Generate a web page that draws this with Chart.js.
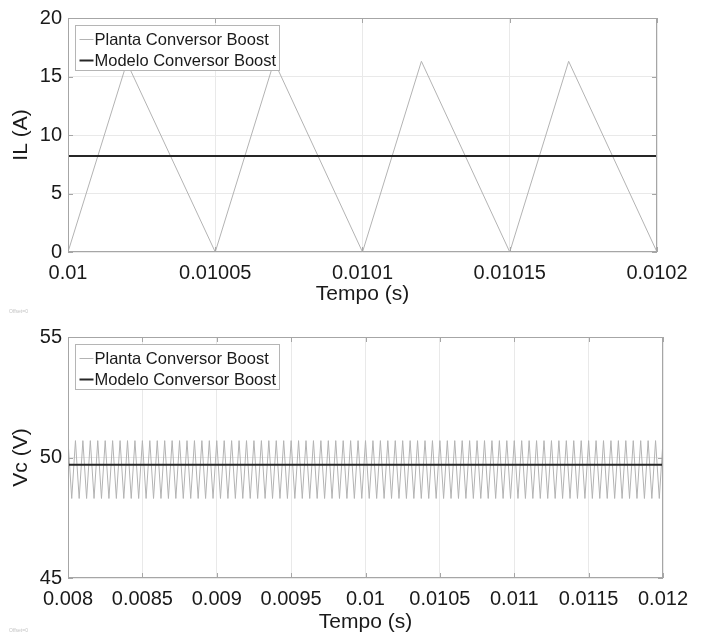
<!DOCTYPE html>
<html><head><meta charset="utf-8">
<script src="https://cdn.jsdelivr.net/npm/chart.js@4.4.1/dist/chart.umd.min.js"></script>
<style>
html,body{margin:0;padding:0;background:#fff;}
#wrap{width:712px;height:638px;position:relative;overflow:hidden;}
canvas{position:absolute;left:0;}
</style></head><body>
<div id="wrap">
<canvas id="c1" width="712" height="319" style="top:0"></canvas>
<canvas id="c2" width="712" height="319" style="top:319px"></canvas>
</div>
<script>
// ---------- data ----------
const seriesLabels = ['Planta Conversor Boost', 'Modelo Conversor Boost'];

// Top panel: inductor current IL (A) vs time (s)
const ilTime  = [0.01, 0.01002, 0.01005, 0.01007, 0.0101, 0.01012, 0.01015, 0.01017, 0.0102];
const ilPlant = [0, 16.2, 0, 16.3, 0, 16.3, 0, 16.3, 0];
const ilModelTime = [0.01, 0.0102];
const ilModel = [8.2, 8.2];
const ilXTicks = [0.01, 0.01005, 0.0101, 0.01015, 0.0102];
const ilXTickLabels = ['0.01', '0.01005', '0.0101', '0.01015', '0.0102'];
const ilYTicks = [0, 5, 10, 15, 20];

// Bottom panel: capacitor voltage Vc (V) vs time (microseconds)
const vcTimeUs = [
  8000,8025,8050,8075,8100,8125,8150,8175,
  8200,8225,8250,8275,8300,8325,8350,8375,
  8400,8425,8450,8475,8500,8525,8550,8575,
  8600,8625,8650,8675,8700,8725,8750,8775,
  8800,8825,8850,8875,8900,8925,8950,8975,
  9000,9025,9050,9075,9100,9125,9150,9175,
  9200,9225,9250,9275,9300,9325,9350,9375,
  9400,9425,9450,9475,9500,9525,9550,9575,
  9600,9625,9650,9675,9700,9725,9750,9775,
  9800,9825,9850,9875,9900,9925,9950,9975,
  10000,10025,10050,10075,10100,10125,10150,10175,
  10200,10225,10250,10275,10300,10325,10350,10375,
  10400,10425,10450,10475,10500,10525,10550,10575,
  10600,10625,10650,10675,10700,10725,10750,10775,
  10800,10825,10850,10875,10900,10925,10950,10975,
  11000,11025,11050,11075,11100,11125,11150,11175,
  11200,11225,11250,11275,11300,11325,11350,11375,
  11400,11425,11450,11475,11500,11525,11550,11575,
  11600,11625,11650,11675,11700,11725,11750,11775,
  11800,11825,11850,11875,11900,11925,11950,11975,
  12000];
const vcPlant = [
  50.7,48.3,50.7,48.3,50.7,48.3,50.7,48.3,
  50.7,48.3,50.7,48.3,50.7,48.3,50.7,48.3,
  50.7,48.3,50.7,48.3,50.7,48.3,50.7,48.3,
  50.7,48.3,50.7,48.3,50.7,48.3,50.7,48.3,
  50.7,48.3,50.7,48.3,50.7,48.3,50.7,48.3,
  50.7,48.3,50.7,48.3,50.7,48.3,50.7,48.3,
  50.7,48.3,50.7,48.3,50.7,48.3,50.7,48.3,
  50.7,48.3,50.7,48.3,50.7,48.3,50.7,48.3,
  50.7,48.3,50.7,48.3,50.7,48.3,50.7,48.3,
  50.7,48.3,50.7,48.3,50.7,48.3,50.7,48.3,
  50.7,48.3,50.7,48.3,50.7,48.3,50.7,48.3,
  50.7,48.3,50.7,48.3,50.7,48.3,50.7,48.3,
  50.7,48.3,50.7,48.3,50.7,48.3,50.7,48.3,
  50.7,48.3,50.7,48.3,50.7,48.3,50.7,48.3,
  50.7,48.3,50.7,48.3,50.7,48.3,50.7,48.3,
  50.7,48.3,50.7,48.3,50.7,48.3,50.7,48.3,
  50.7,48.3,50.7,48.3,50.7,48.3,50.7,48.3,
  50.7,48.3,50.7,48.3,50.7,48.3,50.7,48.3,
  50.7,48.3,50.7,48.3,50.7,48.3,50.7,48.3,
  50.7,48.3,50.7,48.3,50.7,48.3,50.7,48.3,
  50.7];
const vcModelTimeUs = [8000, 12000];
const vcModel = [49.7, 49.7];
const vcXTicks = [0.008, 0.0085, 0.009, 0.0095, 0.01, 0.0105, 0.011, 0.0115, 0.012];
const vcXTickLabels = ['0.008', '0.0085', '0.009', '0.0095', '0.01', '0.0105', '0.011', '0.0115', '0.012'];
const vcYTicks = [45, 50, 55];

// ---------- styling ----------
const FONT = '"Liberation Sans", Arial, Helvetica, sans-serif';
const TEXT = '#1a1a1a';
const FRAME = '#a6a6a6';
const GRID = '#e9e9e9';
const PLANT_COLOR = '#b3b3b3';
const MODEL_COLOR = '#262626';

function pts(xs, ys, scale) { return xs.map((x, i) => ({ x: x * scale, y: ys[i] })); }

function decorPlugin() {
  return {
    id: 'decor',
    afterDatasetsDraw(chart) {
      const { ctx, chartArea: a } = chart;
      const sx = chart.scales.x, sy = chart.scales.y;
      ctx.save();
      ctx.strokeStyle = FRAME; ctx.lineWidth = 1;
      ctx.beginPath();
      sx.ticks.forEach(t => {
        const p = Math.round(sx.getPixelForValue(t.value)) + 0.5;
        ctx.moveTo(p, a.bottom); ctx.lineTo(p, a.bottom - 5);
        ctx.moveTo(p, a.top); ctx.lineTo(p, a.top + 5);
      });
      sy.ticks.forEach(t => {
        const p = Math.round(sy.getPixelForValue(t.value)) + 0.5;
        ctx.moveTo(a.left, p); ctx.lineTo(a.left + 5, p);
        ctx.moveTo(a.right, p); ctx.lineTo(a.right - 5, p);
      });
      ctx.stroke();
      ctx.strokeRect(Math.round(a.left) + 0.5, Math.round(a.top) + 0.5,
        Math.round(a.right - a.left) - 1, Math.round(a.bottom - a.top) - 1);
      // legend box
      const bx = a.left + 7.5, by = a.top + 7.5, bw = 204, bh = 45;
      ctx.fillStyle = '#fff';
      ctx.fillRect(bx, by, bw, bh);
      ctx.strokeStyle = '#b5b5b5';
      ctx.strokeRect(bx, by, bw, bh);
      ctx.font = '16.5px ' + FONT;
      ctx.textBaseline = 'middle';
      ctx.textAlign = 'left';
      chart.data.datasets.forEach((ds, i) => {
        const cy = by + 14 + i * 21;
        ctx.strokeStyle = ds.borderColor;
        ctx.lineWidth = ds.borderWidth;
        ctx.beginPath(); ctx.moveTo(bx + 4, cy); ctx.lineTo(bx + 18, cy); ctx.stroke();
        ctx.fillStyle = TEXT;
        ctx.fillText(ds.label, bx + 19, cy + 1);
      });
      ctx.font = '5px ' + FONT;
      ctx.fillStyle = '#c4c4c4';
      ctx.textBaseline = 'alphabetic';
      ctx.fillText('Offset=0', 9, chart.height - 6);
      ctx.restore();
    }
  };
}

function makeChart(id, cfg) {
  return new Chart(document.getElementById(id), {
    type: 'line',
    data: {
      datasets: [
        { label: seriesLabels[0], data: cfg.plant, borderColor: PLANT_COLOR, borderWidth: 1, pointRadius: 0, tension: 0, order: 2 },
        { label: seriesLabels[1], data: cfg.model, borderColor: MODEL_COLOR, borderWidth: 2, pointRadius: 0, tension: 0, order: 1 }
      ]
    },
    options: {
      responsive: false,
      animation: false,
      events: [],
      layout: { padding: { top: cfg.padTop, right: cfg.padRight, left: 0, bottom: 0 } },
      plugins: { legend: { display: false }, tooltip: { enabled: false } },
      scales: {
        x: {
          type: 'linear', min: cfg.xMin, max: cfg.xMax,
          afterBuildTicks: s => { s.ticks = cfg.xTicks.map(v => ({ value: v })); },
          afterFit: s => { s.height = cfg.xHeight; },
          ticks: { autoSkip: false, maxRotation: 0, padding: 9, color: TEXT,
                   font: { family: FONT, size: 20 },
                   callback: (v, i) => cfg.xTickLabels[i] },
          grid: { color: GRID, drawTicks: false, tickLength: 0 },
          border: { display: false },
          title: { display: true, text: 'Tempo (s)', color: TEXT,
                   font: { family: FONT, size: 21 }, padding: { top: 0, bottom: cfg.titlePad } }
        },
        y: {
          type: 'linear', min: cfg.yMin, max: cfg.yMax,
          afterBuildTicks: s => { s.ticks = cfg.yTicks.map(v => ({ value: v })); },
          afterFit: s => { s.width = 68; },
          ticks: { padding: 6, color: TEXT, font: { family: FONT, size: 20 },
                   callback: v => String(v) },
          grid: { color: GRID, drawTicks: false, tickLength: 0 },
          border: { display: false },
          title: { display: true, text: cfg.yTitle, color: TEXT,
                   font: { family: FONT, size: 21 }, padding: { top: 9, bottom: 0 } }
        }
      }
    },
    plugins: [decorPlugin()]
  });
}

makeChart('c1', {
  plant: pts(ilTime, ilPlant, 1), model: pts(ilModelTime, ilModel, 1),
  xMin: 0.01, xMax: 0.0102, yMin: 0, yMax: 20,
  xTicks: ilXTicks, xTickLabels: ilXTickLabels, yTicks: ilYTicks,
  yTitle: 'IL (A)', padTop: 10, padRight: 55, xHeight: 67, titlePad: 12.4
});

makeChart('c2', {
  plant: pts(vcTimeUs, vcPlant, 1e-6), model: pts(vcModelTimeUs, vcModel, 1e-6),
  xMin: 0.008, xMax: 0.012, yMin: 45, yMax: 55,
  xTicks: vcXTicks, xTickLabels: vcXTickLabels, yTicks: vcYTicks,
  yTitle: 'Vc (V)', padTop: 15, padRight: 49, xHeight: 60, titlePad: 3.4
});
</script>
</body></html>
